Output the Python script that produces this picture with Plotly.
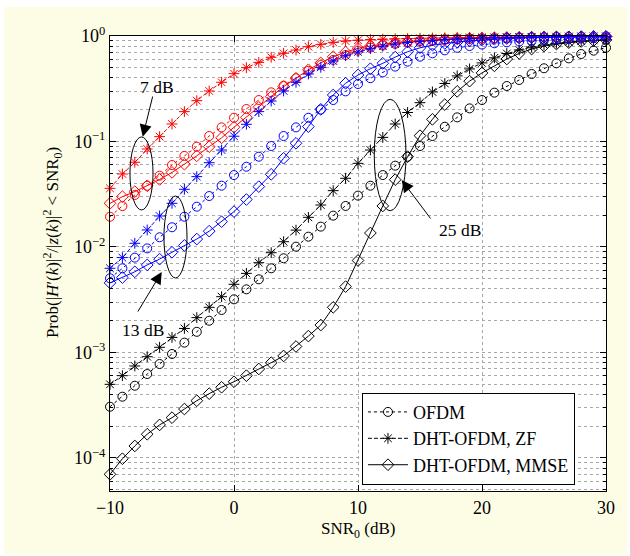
import plotly.graph_objects as go

# SNR0 grid (dB)
snr_db = list(range(-10, 31))

# Outage probability, OFDM receiver (7, 13, 25 dB curves)
ofdm_7 = [0.01936, 0.02443, 0.03112, 0.03802, 0.04742, 0.05984, 0.07295, 0.08933, 0.1127, 0.1361,
          0.1679, 0.2032, 0.2472, 0.2924, 0.3381, 0.3972, 0.4677, 0.5309, 0.5929, 0.6607,
          0.7261, 0.7762, 0.8128, 0.8414, 0.8670, 0.8872, 0.9036, 0.9183, 0.9290, 0.9376,
          0.9462, 0.9528, 0.9594, 0.9638, 0.9683, 0.9727, 0.9772, 0.9795, 0.9817, 0.9840, 0.9863]
ofdm_13 = [0.00505, 0.00628, 0.00793, 0.00970, 0.01236, 0.01538, 0.01936, 0.02410, 0.03041, 0.03811,
           0.04808, 0.05768, 0.07178, 0.09057, 0.1127, 0.1361, 0.1679, 0.2009, 0.2472, 0.2985,
           0.3508, 0.3981, 0.4519, 0.5129, 0.5715, 0.6368, 0.6855, 0.7311, 0.7727, 0.8035,
           0.8299, 0.8531, 0.8710, 0.8872, 0.9016, 0.9141, 0.9268, 0.9376, 0.9462, 0.9550, 0.9616]
ofdm_25 = [3.06e-4, 3.81e-4, 4.84e-4, 6.25e-4, 7.78e-4, 9.68e-4, 1.24e-3, 1.57e-3, 2.00e-3, 2.53e-3,
           3.19e-3, 3.97e-3, 4.94e-3, 6.28e-3, 7.82e-3, 0.01007, 0.01253, 0.01560, 0.01982, 0.02449,
           0.03069, 0.03811, 0.04808, 0.05902, 0.07178, 0.09057, 0.1127, 0.1380, 0.1694, 0.2061,
           0.2472, 0.2904, 0.3357, 0.3828, 0.4365, 0.4943, 0.5508, 0.6138, 0.6745, 0.7261, 0.7745]

# DHT-OFDM with ZF equalisation
zf_7 = [0.03597, 0.04920, 0.06353, 0.08492, 0.1112, 0.1466, 0.1919, 0.2438, 0.3013, 0.3639,
        0.4395, 0.5012, 0.5623, 0.6281, 0.6855, 0.7362, 0.7925, 0.8337, 0.8710, 0.8974,
        0.9120, 0.9247, 0.9333, 0.9397, 0.9462, 0.9528, 0.9572, 0.9616, 0.9661, 0.9705,
        0.9727, 0.9750, 0.9772, 0.9795, 0.9817, 0.9840, 0.9863, 0.9863, 0.9886, 0.9886, 0.9908]
zf_13 = [0.00628, 0.00793, 0.01084, 0.01449, 0.01968, 0.02594, 0.03524, 0.04645, 0.06295, 0.08299,
         0.1122, 0.1455, 0.1919, 0.2421, 0.3013, 0.3639, 0.4365, 0.5047, 0.5794, 0.6501,
         0.7079, 0.7586, 0.8017, 0.8375, 0.8670, 0.8913, 0.9099, 0.9247, 0.9376, 0.9484,
         0.9572, 0.9638, 0.9705, 0.9750, 0.9795, 0.9817, 0.9840, 0.9863, 0.9886, 0.9886, 0.9908]
zf_25 = [4.99e-4, 6.03e-4, 7.45e-4, 9.12e-4, 1.12e-3, 1.39e-3, 1.69e-3, 2.14e-3, 2.68e-3, 3.38e-3,
         4.43e-3, 5.62e-3, 7.10e-3, 8.83e-3, 0.01122, 0.01445, 0.01910, 0.02500, 0.03420, 0.04477,
         0.06209, 0.08299, 0.1094, 0.1466, 0.1884, 0.2333, 0.2951, 0.3548, 0.4188, 0.4875,
         0.5559, 0.6209, 0.6823, 0.7379, 0.7852, 0.8222, 0.8531, 0.8770, 0.8954, 0.9099, 0.9204]

# DHT-OFDM with MMSE equalisation
mmse_7 = [0.02594, 0.02999, 0.03350, 0.03802, 0.04365, 0.05093, 0.06095, 0.07311, 0.08933, 0.1084,
          0.1365, 0.1694, 0.2109, 0.2661, 0.3311, 0.3972, 0.4786, 0.5559, 0.6353, 0.7047,
          0.7638, 0.8035, 0.8356, 0.8630, 0.8851, 0.9036, 0.9183, 0.9311, 0.9397, 0.9484,
          0.9550, 0.9616, 0.9661, 0.9705, 0.9750, 0.9772, 0.9795, 0.9817, 0.9840, 0.9863, 0.9886]
mmse_13 = [0.00457, 0.00513, 0.00582, 0.00676, 0.00767, 0.00891, 0.01035, 0.01189, 0.01413, 0.01738,
           0.02163, 0.02818, 0.03733, 0.04887, 0.06934, 0.09616, 0.1384, 0.2018, 0.2761, 0.3565,
           0.4266, 0.4898, 0.5508, 0.6310, 0.7096, 0.7727, 0.8185, 0.8511, 0.8770, 0.8995,
           0.9183, 0.9333, 0.9462, 0.9572, 0.9661, 0.9727, 0.9772, 0.9817, 0.9863, 0.9886, 0.9908]
mmse_25 = [7.00e-5, 9.84e-5, 1.30e-4, 1.68e-4, 2.06e-4, 2.41e-4, 2.91e-4, 3.49e-4, 4.07e-4, 4.68e-4,
           5.28e-4, 6.03e-4, 6.98e-4, 8.00e-4, 9.27e-4, 1.14e-3, 1.43e-3, 1.82e-3, 2.68e-3, 4.21e-3,
           7.45e-3, 0.01358, 0.02449, 0.04345, 0.07178, 0.1135, 0.1622, 0.2239, 0.2985, 0.3733,
           0.4467, 0.5212, 0.6053, 0.6839, 0.7516, 0.8035, 0.8395, 0.8650, 0.8872, 0.9057, 0.9183]

x_ticks = [-10, 0, 10, 20, 30]
y_ticks = [1e-4, 1e-3, 1e-2, 1e-1, 1]
y_ticktext = ["10<sup>\u22124</sup>", "10<sup>\u22123</sup>", "10<sup>\u22122</sup>",
              "10<sup>\u22121</sup>", "10<sup>0</sup>"]
y_minor = [m * 10.0 ** e for e in range(-5, 0) for m in range(2, 10) if m * 10.0 ** e > 4.9e-5]

X_RANGE = [-10, 30]
Y_RANGE = [-4.313, 0]          # log10 units

FONT = "Liberation Serif, Times New Roman, serif"
PAPER = "#fdfde6"


def to_paper_x(v):
    return (v - X_RANGE[0]) / (X_RANGE[1] - X_RANGE[0])


def to_paper_y(logv):
    return (logv - Y_RANGE[0]) / (Y_RANGE[1] - Y_RANGE[0])


styles = {
    "ofdm": dict(name="OFDM", symbol="circle-open", dash="dot"),
    "zf": dict(name="DHT-OFDM, ZF", symbol="asterisk-open", dash="4px,2px"),
    "mmse": dict(name="DHT-OFDM, MMSE", symbol="diamond-open", dash="solid"),
}

curves = [
    ("ofdm", ofdm_25, "black", True), ("zf", zf_25, "black", True), ("mmse", mmse_25, "black", True),
    ("ofdm", ofdm_7, "#ff0000", False), ("zf", zf_7, "#ff0000", False), ("mmse", mmse_7, "#ff0000", False),
    ("ofdm", ofdm_13, "#0000ff", False), ("zf", zf_13, "#0000ff", False), ("mmse", mmse_13, "#0000ff", False),
]

fig = go.Figure()
for key, vals, color, show in curves:
    st = styles[key]
    fig.add_trace(go.Scatter(
        x=snr_db, y=vals, mode="lines+markers", name=st["name"],
        legendgroup=key, showlegend=show, cliponaxis=False,
        line=dict(color=color, width=1, dash=st["dash"]),
        marker=dict(symbol=st["symbol"], size=9, color=color, line=dict(color=color, width=1)),
    ))

# ellipses grouping the curves for each SNR setting (x in dB, y in log10 units)
ellipses = [(-8.39, -6.53, -1.649, -0.957), (-5.65, -3.79, -2.294, -1.517), (11.31, 13.87, -1.656, -0.600)]
for x0, x1, y0, y1 in ellipses:
    fig.add_shape(type="circle", xref="paper", yref="paper",
                  x0=to_paper_x(x0), x1=to_paper_x(x1), y0=to_paper_y(y0), y1=to_paper_y(y1),
                  line=dict(color="black", width=1))

# arrows and their labels
arrows = [((-7.36, -0.954), (-6.53, -0.559)), ((-5.83, -2.237), (-7.82, -2.626)),
          ((13.52, -1.365), (15.94, -1.744))]
for (tx, ty), (sx, sy) in arrows:
    fig.add_annotation(x=tx, y=ty, ax=sx, ay=sy, xref="x", yref="y", axref="x", ayref="y",
                       text="", showarrow=True, arrowhead=2, arrowsize=2.4, arrowwidth=1,
                       arrowcolor="black", standoff=0, startstandoff=0)
labels = [("7 dB", -6.21, -0.483), ("13 dB", -7.34, -2.787), ("25 dB", 18.23, -1.839)]
for txt, lx, ly in labels:
    fig.add_annotation(x=lx, y=ly, xref="x", yref="y", text=txt, showarrow=False,
                       font=dict(family=FONT, size=17.5, color="black"))

# axis titles
fig.add_annotation(x=-0.117, y=0.547, xref="paper", yref="paper", textangle=-90,
                   text="Prob(|<i>H</i>\u2032(<i>k</i>)|<sup>2</sup>/|<i>z</i>(<i>k</i>)|<sup>2</sup> &lt; SNR<sub>0</sub>)",
                   showarrow=False, xanchor="center", yanchor="middle",
                   font=dict(family=FONT, size=17, color="black"))
fig.add_annotation(x=0.5, y=-0.085, xref="paper", yref="paper", text="SNR<sub>0</sub> (dB)",
                   showarrow=False, xanchor="center", yanchor="middle",
                   font=dict(family=FONT, size=17, color="black"))

# white rim around the tinted page
for x0, x1, y0, y1 in [(-0.3, 1.2, 1.0637, 1.2), (-0.3, -0.2137, -0.3, 1.2),
                       (1.0423, 1.2, -0.3, 1.2), (-0.3, 1.2, -0.3, -0.1385)]:
    fig.add_shape(type="rect", xref="paper", yref="paper", x0=x0, x1=x1, y0=y0, y1=y1,
                  fillcolor="white", line=dict(width=0), layer="below")

grid = dict(showgrid=True, gridcolor="#a8a8a8", gridwidth=1, griddash="dot")
fig.update_xaxes(range=X_RANGE, tickvals=x_ticks, ticks="inside", ticklen=6, tickcolor="black",
                 showline=True, linecolor="black", linewidth=1, mirror="ticks", zeroline=False,
                 tickfont=dict(family=FONT, size=18, color="black"), **grid)
fig.update_yaxes(type="log", range=Y_RANGE, tickvals=y_ticks, ticktext=y_ticktext,
                 ticks="inside", ticklen=6, tickcolor="black",
                 showline=True, linecolor="black", linewidth=1, mirror="ticks", zeroline=False,
                 tickfont=dict(family=FONT, size=18, color="black"),
                 minor=dict(tickvals=y_minor, ticks="inside", ticklen=3, tickcolor="black",
                            showgrid=True, gridcolor="#a8a8a8", gridwidth=1, griddash="dot"),
                 **grid)

fig.update_layout(
    width=630, height=556, autosize=False,
    margin=dict(l=110, r=24, t=36, b=65),
    paper_bgcolor=PAPER, plot_bgcolor="white",
    font=dict(family=FONT, size=16, color="black"),
    legend=dict(x=0.508, y=0.216, xanchor="left", yanchor="top", bgcolor="white",
                bordercolor="black", borderwidth=1, itemwidth=40, tracegroupgap=0,
                font=dict(family=FONT, size=18, color="black")),
)

fig.write_html("out.html")
